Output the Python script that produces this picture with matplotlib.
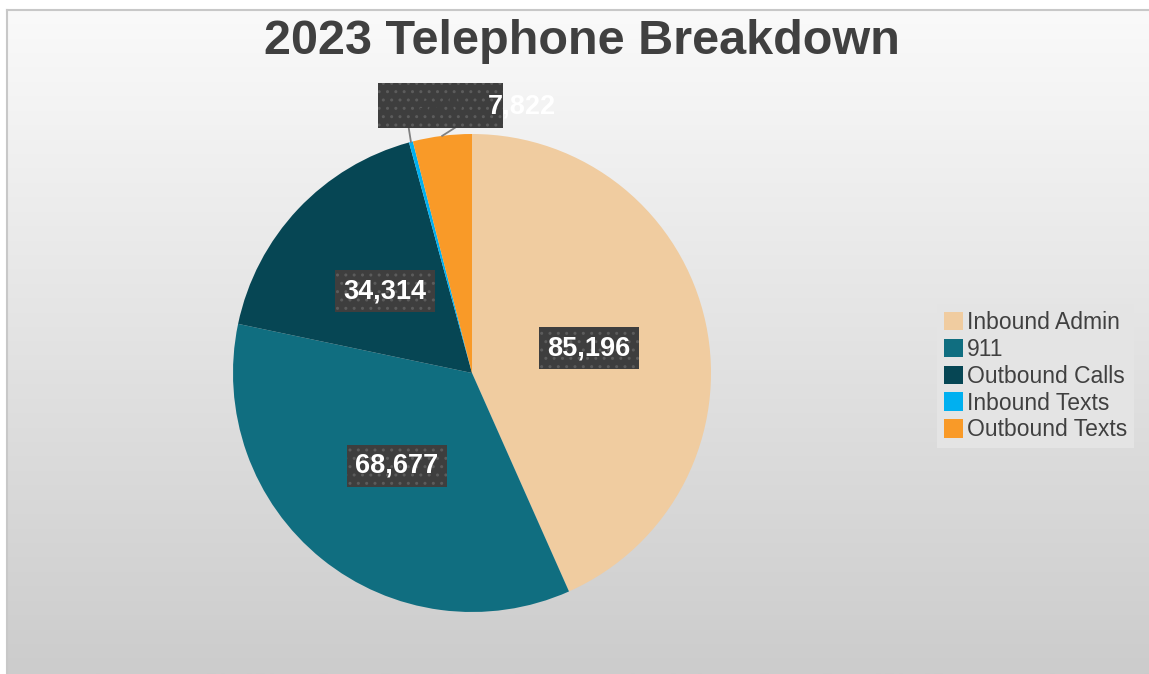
import numpy as np
import matplotlib
matplotlib.use("Agg")
import matplotlib.pyplot as plt
from matplotlib.patches import Rectangle

plt.rcParams['font.family'] = ['Liberation Sans', 'DejaVu Sans']

title = "2023 Telephone Breakdown"
categories = ["Inbound Admin", "911", "Outbound Calls", "Inbound Texts", "Outbound Texts"]
counts = [85196, 68677, 34314, 520, 7822]
colors = ["#f0cca0", "#106e80", "#064654", "#00b0f0", "#f99a28"]

W, H = 1149, 674
fig = plt.figure(figsize=(W / 100, H / 100), dpi=100)
fig.patch.set_facecolor("white")

# gradient panel behind everything
bg = fig.add_axes([7 / W, 0, 1 - 7 / W, 1 - 10 / H])
grad = np.linspace(0.98, 0.80, 256).reshape(-1, 1)
bg.imshow(np.dstack([grad, grad, grad]), aspect="auto", extent=[0, 1, 0, 1])
bg.set_xticks([])
bg.set_yticks([])
for s in ["right", "bottom"]:
    bg.spines[s].set_visible(False)
for s in ["left", "top"]:
    bg.spines[s].set_color("#c8c8c8")
    bg.spines[s].set_linewidth(1.5)

fig.text(582 / W, 1 - 41 / H, title, ha="center", va="center",
         fontsize=35, fontweight="bold", color="#404040")

# pie axes: centre (472, 373) px, radius 239 px
cx, cy, r = 472, 373, 239
ax = fig.add_axes([(cx - r) / W, (H - cy - r) / H, 2 * r / W, 2 * r / H])

box = dict(boxstyle="square,pad=0.3", fc="#3e3e3e", ec="#5c5c5c", lw=0, hatch="..")
vals = iter(counts)
wedges, _, autotexts = ax.pie(
    counts, colors=colors, startangle=90, counterclock=False, radius=1,
    autopct=lambda p: f"{next(vals):,}", pctdistance=0.5,
    textprops=dict(color="white", fontsize=19.5, fontweight="bold"),
    wedgeprops=dict(linewidth=0),
)
ax.set_xlim(-1, 1)
ax.set_ylim(-1, 1)
ax.axis("off")
for t in autotexts[:3]:
    t.set_bbox(box)

# small slices: labels pulled above the pie with leader lines
inb, outb = wedges[3], wedges[4]
t_in, t_out = autotexts[3], autotexts[4]
t_in.set_position((-0.132, 1.119))
t_in.set_color("#3e3e3e")
t_in.set_zorder(6)
ax.add_patch(Rectangle((-0.393, 1.025), 0.523, 0.188, fc="#3e3e3e", ec="#5c5c5c",
                       lw=0, hatch="..", zorder=5, clip_on=False))
t_out.set_position((0.209, 1.113))
t_out.set_zorder(7)
t_out.set_clip_on(False)
t_in.set_clip_on(False)


def edge_point(w):
    a = np.deg2rad((w.theta1 + w.theta2) / 2)
    return np.cos(a), np.sin(a)


ex, ey = edge_point(inb)
ax.plot([ex, -0.265], [ey, 1.027], color="#808080", lw=1.3, zorder=4, clip_on=False)
ex, ey = edge_point(outb)
ax.plot([ex, -0.07], [ey, 1.027], color="#808080", lw=1.3, zorder=4, clip_on=False)

leg = fig.legend(wedges, categories, loc="upper left",
                 bbox_to_anchor=(937 / W, 1 - 304 / H),
                 fontsize=16.5, frameon=True, fancybox=False,
                 facecolor="#e4e4e4", edgecolor="none", framealpha=1,
                 handlelength=0.85, handleheight=0.85, handletextpad=0.15,
                 labelspacing=0.17, borderpad=0.3, borderaxespad=0)
for txt in leg.get_texts():
    txt.set_color("#404040")

fig.savefig("out.png", dpi=100)
